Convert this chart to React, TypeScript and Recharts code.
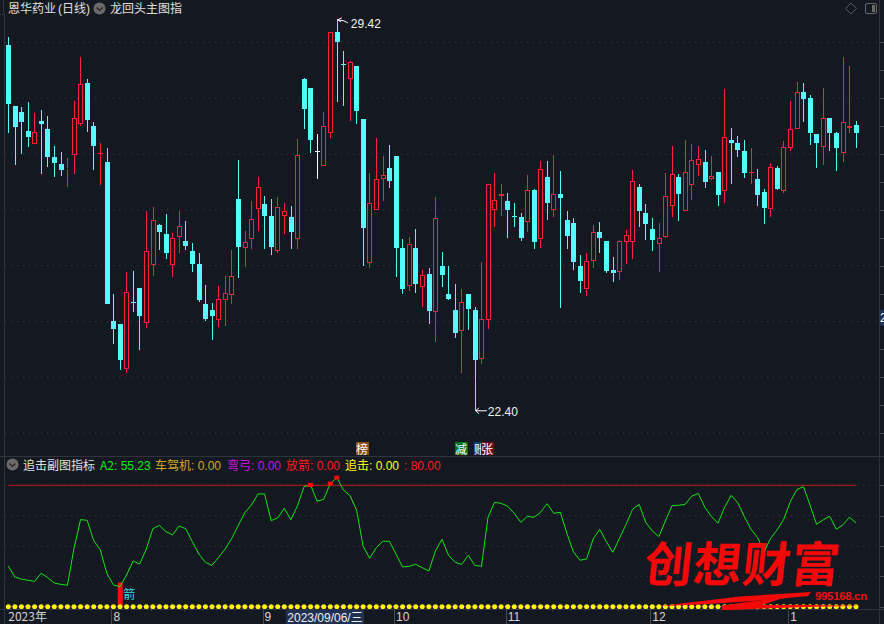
import React from 'react';
import { ComposedChart, Bar, Line, XAxis, YAxis, CartesianGrid, ReferenceDot } from 'recharts';

const highs = [29.09,27.86,27.84,27.93,27.73,27.79,27.68,27.14,27.04,26.93,27.95,28.74,28.34,27.57,27.19,27.10,24.49,23.96,24.89,24.91,24.60,25.98,26.05,25.75,25.93,25.59,25.98,25.80,25.41,25.23,24.65,24.33,24.64,24.81,25.28,26.89,25.62,26.16,26.59,26.25,26.19,26.23,26.12,26.07,27.26,28.36,28.18,27.36,27.75,29.18,29.42,28.84,28.66,28.58,27.63,26.66,27.29,26.96,27.16,26.96,25.48,25.51,25.66,24.92,24.96,26.23,25.24,24.99,24.67,24.58,24.49,24.26,25.07,26.46,26.66,26.46,26.30,26.12,25.94,26.62,26.37,26.87,26.87,26.98,26.70,25.97,25.85,25.19,25.23,25.73,25.78,25.44,25.16,25.46,25.64,26.71,26.46,26.10,25.85,25.76,26.66,27.14,26.64,27.25,27.18,27.14,27.07,26.96,26.68,28.16,27.47,27.32,27.25,27.11,26.73,26.37,26.84,26.79,27.23,27.95,28.29,28.27,28.06,27.36,28.18,27.65,27.39,28.74,28.58,27.59];
const lows = [27.38,26.81,27.00,27.13,27.18,26.65,26.76,26.59,26.61,26.40,26.65,27.51,27.40,26.72,26.45,24.32,23.60,23.13,23.08,24.17,23.49,23.88,24.81,25.28,25.12,24.79,25.23,25.28,24.89,24.35,24.01,23.67,23.90,23.92,24.31,24.78,24.98,25.30,25.62,25.30,25.19,25.23,25.57,25.30,25.30,27.45,27.02,26.55,26.79,27.29,27.93,27.86,27.59,27.54,24.99,24.96,26.00,26.16,26.39,24.80,24.49,24.55,24.51,24.26,23.96,23.63,24.62,24.39,23.70,23.08,23.85,22.40,23.24,23.87,25.69,25.89,25.50,25.69,25.44,25.60,25.30,25.32,25.82,25.87,24.24,25.30,24.92,24.51,24.46,24.96,25.23,24.87,24.71,24.74,25.03,25.12,25.69,25.46,25.26,24.89,25.50,25.87,25.80,25.97,26.18,26.61,26.39,26.54,26.07,26.12,26.46,26.95,26.57,26.46,26.07,25.75,25.87,26.36,26.30,27.05,27.45,27.57,27.16,26.75,26.80,27.05,26.70,26.86,27.38,27.11];
const opens = [28.96,27.86,27.75,27.41,27.18,27.59,27.45,26.95,26.82,26.73,26.99,27.53,28.27,27.50,27.01,26.86,24.01,23.96,23.14,24.34,24.60,23.98,25.01,25.73,25.57,25.01,25.51,25.44,25.26,25.03,24.31,24.21,24.02,24.39,24.48,26.19,25.32,25.48,26.01,26.10,25.89,25.27,25.89,25.87,25.48,28.34,28.18,27.05,26.79,27.38,29.19,28.61,28.35,28.58,27.63,25.05,26.00,26.56,26.75,26.96,25.32,24.64,25.32,24.62,24.85,24.17,24.99,24.49,24.21,23.83,24.49,24.21,23.33,24.02,26.00,26.24,26.16,25.89,25.87,25.79,26.36,25.47,26.59,25.99,26.28,25.82,25.76,24.99,24.59,25.09,25.60,25.44,24.92,24.89,25.43,25.43,26.41,25.94,25.66,25.39,25.51,26.07,26.59,25.97,26.45,26.81,26.86,26.56,26.68,26.33,27.25,27.20,27.05,26.67,26.55,26.32,26.02,26.75,26.34,27.11,27.45,28.11,28.00,27.36,27.13,27.65,27.38,27.02,27.47,27.52];
const closes = [27.90,27.49,27.58,27.31,27.39,27.54,26.95,26.83,26.72,26.74,27.64,28.25,27.61,27.15,27.02,24.32,23.87,23.31,24.52,24.33,24.09,25.26,25.81,25.60,25.23,25.49,25.71,25.35,25.03,24.38,24.04,24.10,24.40,24.51,24.81,25.33,25.42,25.83,26.40,25.89,25.33,26.05,25.97,25.60,26.99,27.81,27.25,27.05,27.51,29.18,29.01,28.60,28.64,27.77,25.67,26.12,26.56,26.62,26.52,25.32,24.58,25.38,24.67,24.83,24.19,25.85,24.83,24.40,23.79,24.34,24.22,23.31,24.04,26.46,26.17,26.28,26.00,25.88,25.50,26.35,25.42,26.73,26.12,26.28,26.21,25.53,25.07,24.73,25.08,25.60,25.50,24.91,24.87,25.44,25.54,26.51,25.98,25.75,25.46,25.49,26.24,26.64,26.28,26.67,26.89,26.91,26.50,26.60,26.27,27.30,27.20,27.07,26.66,26.68,26.27,26.03,26.76,26.37,27.12,27.44,28.11,27.98,27.38,27.20,27.64,27.38,27.11,27.57,27.50,27.38];
const a2Values = [26.8,19.5,18.2,17.4,16.7,22.0,19.1,15.6,14.7,14.1,38.5,57.4,56.9,43.5,37.4,22.0,14.3,13.2,20.9,30.1,28.1,38.0,51.4,53.6,49.4,47.4,53.2,51.4,42.9,34.7,29.2,27.2,32.5,38.0,45.0,53.6,62.0,67.0,74.3,74.3,56.7,58.5,64.8,57.4,66.4,79.1,80.2,69.5,70.8,81.1,85.1,76.9,73.2,63.7,39.8,31.9,38.9,43.1,43.1,34.7,26.2,26.6,27.9,25.7,23.5,36.7,44.4,33.9,29.2,27.9,33.9,27.2,26.6,58.9,68.8,68.1,66.2,61.5,55.6,59.6,58.9,62.2,67.9,61.5,62.2,48.4,36.1,30.6,31.4,44.6,51.0,42.9,35.8,45.0,54.1,64.2,67.5,55.6,49.9,46.2,56.5,66.6,66.8,67.5,72.8,74.7,65.5,59.4,55.0,65.5,73.4,68.6,59.4,51.2,45.7,36.3,45.0,50.6,57.6,69.2,77.2,79.1,67.0,54.3,57.2,59.6,51.0,53.9,58.9,55.23];
const arrowIndex = 17;
const arrowValue = 16.1;
const limitValue = 80;
const paddingSlots = 3;
const priceGrid = [22,23,24,25,26,27,28,29];
const priceTicks = [22,22.5,23,23.5,24,24.5,25,25.5,26,26.5,27,27.5,28,28.5,29];
const priceDomain = [21.59, 29.758];
const lowerGrid = [20,40,60,80];
const lowerTicks = [0,20,40,60,80];
const lowerDomain = [-1.54, 98.66];
const monthIndex = [0,16,39,59,76,98,119];
const monthLabels = ['2023年','8','9','10','11','12','1'];
const minorIndex = [22,27,33,44,49,54,65,70,83,88,93,103,108,114,124];

const BG = '#141821';
const CYAN = '#54fcfc';
const RED = '#ff2040';
const GRID = '#3a3f47';
const EDGE = '#2f333a';
const CJK = "'Noto Sans CJK SC', sans-serif";
const LATIN = "'Liberation Sans', sans-serif";

const total = highs.length + paddingSlots;
const rows = Array.from({ length: total }, (_, i) => {
  if (i >= highs.length) return { i };
  return {
    i,
    range: [lows[i], highs[i]],
    high: highs[i],
    low: lows[i],
    open: opens[i],
    close: closes[i],
    a2: a2Values[i],
    limit: limitValue,
    bow: 0,
    chase: 0,
    arrow: i === arrowIndex ? arrowValue : 0,
    peak: a2Values[i] >= limitValue ? a2Values[i] : null,
  };
});

function Candle(props: any) {
  const { x, y, width, height, payload } = props;
  if (payload == null || payload.high == null) return null;
  const span = payload.high - payload.low;
  const py = (v: number) => y + ((payload.high - v) / span) * height;
  const up = payload.close > payload.open;
  const flat = payload.close === payload.open;
  const color = flat ? '#ffffff' : up ? RED : CYAN;
  const cx = Math.floor(x + width / 2) + 0.5;
  const yT = Math.round(py(Math.max(payload.open, payload.close)));
  const yB = Math.round(py(Math.min(payload.open, payload.close)));
  const yH = Math.round(py(payload.high));
  const yL = Math.round(py(payload.low));
  const thin = yB - yT < 1;
  return (
    <g shapeRendering="crispEdges">
      <line x1={cx} x2={cx} y1={yH} y2={yT} stroke={color} />
      <line x1={cx} x2={cx} y1={yB} y2={yL} stroke={color} />
      {thin ? (
        <line x1={cx - 2.5} x2={cx + 2.5} y1={yT + 0.5} y2={yT + 0.5} stroke={color} />
      ) : up ? (
        <rect x={cx - 2} y={yT + 0.5} width={4} height={yB - yT - 1} fill={BG} stroke={color} />
      ) : (
        <rect x={cx - 2.5} y={yT} width={5} height={yB - yT} fill={color} />
      )}
    </g>
  );
}

function ArrowBar(props: any) {
  const { x, y, width, height, payload } = props;
  if (!payload || !payload.arrow) return null;
  return (
    <g>
      <rect x={x} y={y} width={width} height={height} rx={1.5} fill="#ff0a0a" />
      <text x={x + width + 0.5} y={y + 17} fontSize={12} fill="#35d8e0" fontFamily={CJK}>箭</text>
    </g>
  );
}

function PeakDot(props: any) {
  const { cx, cy, payload } = props;
  if (!payload || payload.peak == null) return <g key={props.key} />;
  return <rect key={props.key} x={cx - 2.5} y={cy - 2} width={5} height={4} fill="#ff0a0a" />;
}

function RightTick(props: any) {
  const { x, y } = props;
  return <line x1={x} x2={x + 5} y1={Math.round(y) + 0.5} y2={Math.round(y) + 0.5} stroke="#444950" shapeRendering="crispEdges" />;
}

function MonthTick(props: any) {
  const { x, y, payload } = props;
  const idx = monthIndex.indexOf(payload.value);
  if (idx < 0) {
    return <line x1={x - 1} x2={x - 1} y1={y} y2={y + 2} stroke="#444950" shapeRendering="crispEdges" />;
  }
  return (
    <g>
      {idx > 0 && <line x1={Math.round(x) - 1.5} x2={Math.round(x) - 1.5} y1={y} y2={y + 15} stroke="#444950" shapeRendering="crispEdges" />}
      <text x={x} y={y + 12} fontSize={12} fill="#d6d6d6" fontFamily={idx === 0 ? CJK : LATIN}>{monthLabels[idx]}</text>
    </g>
  );
}

function HighFlag(props: any) {
  const { cx, cy } = props;
  return (
    <g>
      <polyline points={`${cx + 4},${cy + 3} ${cx + 1},${cy + 1} ${cx + 5},${cy - 1}`} fill="none" stroke="#fff" />
      <polyline points={`${cx + 1},${cy + 1} ${cx + 7},${cy + 2} ${cx + 11},${cy + 4}`} fill="none" stroke="#fff" />
      <text x={cx + 14} y={cy + 9} fontSize={12} fill="#f2f2f2" fontFamily={LATIN}>29.42</text>
    </g>
  );
}

function LowFlag(props: any) {
  const { cx, cy } = props;
  return (
    <g>
      <polyline points={`${cx + 4},${cy - 3} ${cx + 1},${cy} ${cx + 4},${cy + 3}`} fill="none" stroke="#fff" />
      <line x1={cx + 1} x2={cx + 12} y1={cy} y2={cy} stroke="#fff" />
      <text x={cx + 13} y={cy + 5} fontSize={12} fill="#f2f2f2" fontFamily={LATIN}>22.40</text>
    </g>
  );
}

function Abs({ left, top, color = '#e0e0e0', size = 12, family = CJK, extra = {}, children }: any) {
  return (
    <div style={{ position: 'absolute', left, top, color, fontSize: size, fontFamily: family, lineHeight: '14px', whiteSpace: 'nowrap', ...extra }}>
      {children}
    </div>
  );
}

function Legend({ left, name, value, color }: any) {
  return (
    <div style={{ position: 'absolute', left, top: 458, color, fontSize: 12, lineHeight: '14px', whiteSpace: 'nowrap', fontFamily: CJK }}>
      {name}
      <span style={{ fontFamily: LATIN, letterSpacing: 0 }}>{value}</span>
    </div>
  );
}

function Chevron({ left, top }: any) {
  return (
    <svg style={{ position: 'absolute', left, top }} width={13} height={13}>
      <circle cx={6.5} cy={6.5} r={6} fill="#6a6a6a" />
      <polyline points="3.5,5.5 6.5,8.5 9.5,5.5" fill="none" stroke="#202020" strokeWidth={1.2} />
    </svg>
  );
}

function Tag({ left, width = 13, bg, children, top = 442 }: any) {
  return (
    <div style={{ position: 'absolute', left, top, width, height: 13, background: bg, color: '#fff', fontSize: 12, lineHeight: '13px', fontFamily: CJK, textAlign: 'left' }}>
      {children}
    </div>
  );
}

const hLine = (top: number, left = 0, width = 884) => (
  <div style={{ position: 'absolute', left, top, width, height: 1, background: EDGE }} />
);
const vLine = (left: number, top: number, height: number) => (
  <div style={{ position: 'absolute', left, top, width: 1, height, background: EDGE }} />
);

export default function App() {
  return (
    <div style={{ position: 'fixed', left: 0, top: 0, width: 884, height: 624, background: BG, overflow: 'hidden' }}>
      <div style={{ position: 'absolute', left: 0, top: 0 }}>
        <ComposedChart width={884} height={456} data={rows} margin={{ top: 0, left: 5, right: 0, bottom: 0 }} barCategoryGap={0}>
          <CartesianGrid vertical={false} horizontalValues={priceGrid} stroke={GRID} strokeDasharray="1 5" />
          <XAxis dataKey="i" type="category" hide />
          <YAxis orientation="right" width={5} domain={priceDomain} allowDataOverflow ticks={priceTicks} interval={0} axisLine={false} tickLine={false} tickSize={0} tickMargin={0} tick={<RightTick />} />
          <Bar dataKey="range" barSize={5} shape={<Candle />} isAnimationActive={false} />
          <ReferenceDot x={50} y={29.42} r={0} shape={<HighFlag />} ifOverflow="visible" />
          <ReferenceDot x={71} y={22.40} r={0} shape={<LowFlag />} ifOverflow="visible" />
        </ComposedChart>
      </div>
      <div style={{ position: 'absolute', left: 0, top: 457 }}>
        <ComposedChart width={884} height={167} data={rows} margin={{ top: 0, left: 5, right: 0, bottom: 0 }} barCategoryGap={0}>
          <CartesianGrid vertical={false} horizontalValues={lowerGrid} stroke={GRID} strokeDasharray="1 5" />
          <XAxis dataKey="i" type="category" height={15} interval={0} ticks={[...monthIndex, ...minorIndex]} axisLine={false} tickLine={false} tickSize={0} tickMargin={0} tick={<MonthTick />} />
          <YAxis orientation="right" width={5} domain={lowerDomain} allowDataOverflow ticks={lowerTicks} interval={0} axisLine={false} tickLine={false} tickSize={0} tickMargin={0} tick={<RightTick />} />
          <Line dataKey="limit" stroke="#c81818" strokeWidth={1} dot={false} isAnimationActive={false} />
          <Line dataKey="a2" stroke="#12e612" strokeWidth={1} dot={false} isAnimationActive={false} />
          <Line dataKey="bow" stroke="#c000c8" strokeWidth={1} dot={false} isAnimationActive={false} />
          <Bar dataKey="arrow" barSize={5} shape={<ArrowBar />} isAnimationActive={false} />
          <Line dataKey="chase" stroke="none" dot={{ r: 2.5, fill: '#ffff00', stroke: 'none' }} isAnimationActive={false} />
          <Line dataKey="peak" stroke="none" dot={<PeakDot />} isAnimationActive={false} />
        </ComposedChart>
      </div>

      {hLine(456)}
      {hLine(609)}
      {vLine(4, 14, 610)}
      {vLine(879, 0, 624)}
      <div style={{ position: 'absolute', left: 0, top: 0, width: 3, height: 14, borderRight: `1px solid ${EDGE}`, borderBottom: `1px solid ${EDGE}` }} />

      <Abs left={8} top={1}>恩华药业<span style={{ fontFamily: LATIN, marginLeft: 2 }}>(</span>日线<span style={{ fontFamily: LATIN }}>)</span></Abs>
      <Chevron left={93} top={2} />
      <Abs left={110} top={1}>龙回头主图指</Abs>
      <svg style={{ position: 'absolute', left: 844, top: 2 }} width={34} height={13}>
        <polygon points="7,1 12.5,6.5 7,12 1.5,6.5" fill="none" stroke="#5a5a5a" />
        <rect x={21.5} y={1.5} width={11} height={10} rx={1.5} fill="none" stroke="#6a6a6a" />
        <rect x={28} y={3} width={3} height={7} fill="#6a6a6a" />
      </svg>
      <div style={{ position: 'absolute', left: 880, top: 310, width: 4, height: 16, background: '#1f3050', color: '#fff', fontSize: 12, lineHeight: '16px', fontFamily: LATIN, overflow: 'hidden' }}>2</div>

      <Tag left={356} bg="#8a4a10">榜</Tag>
      <Tag left={455} bg="#0a700f">减</Tag>
      <Tag left={474} bg="#103c70">账</Tag>
      <Tag left={481} bg="#701010">张</Tag>

      <Chevron left={6} top={458} />
      <Abs left={23} top={458}>追击副图指标</Abs>
      <Legend left={100} name="A2" value=": 55.23" color="#10f010" />
      <Legend left={155} name="车驾机" value=": 0.00" color="#d8a818" />
      <Legend left={227} name="弯弓" value=": 0.00" color="#d010e0" />
      <Legend left={286} name="放箭" value=": 0.00" color="#ff1a1a" />
      <Legend left={345} name="追击" value=": 0.00" color="#ffff10" />
      <Legend left={404} name="" value=": 80.00" color="#ff1a1a" />

      <div style={{ position: 'absolute', left: 286, top: 610, width: 78, height: 14, background: '#1f3050', color: '#f0f0f0', fontSize: 12, lineHeight: '14px', fontFamily: CJK, whiteSpace: 'nowrap', textAlign: 'center' }}>
        <span style={{ fontFamily: LATIN }}>2023/09/06/</span>三
      </div>

      <div style={{ position: 'absolute', left: 645, top: 526, color: '#f40808', fontSize: 48, fontWeight: 700, lineHeight: '70px', letterSpacing: 1, fontFamily: CJK, transform: 'skewX(-6deg)', whiteSpace: 'nowrap' }}>创想财富</div>
      <svg style={{ position: 'absolute', left: 640, top: 580 }} width={244} height={44}>
        <polygon points="20,26 100,16.5 171,12 168,16 113,21 60,24.5" fill="#f40808" />
        <polygon points="168,13.5 82,25.5 82,30 110,29 140,19" fill="#f40808" />
        <polygon points="100,25 167,25 224,25.8 167,27 82,30" fill="#f40808" />
      </svg>
      <div style={{ position: 'absolute', left: 815, top: 590, color: '#f01010', fontSize: 11.5, fontWeight: 700, lineHeight: '13px', fontFamily: LATIN, letterSpacing: -0.35, whiteSpace: 'nowrap' }}>995168.cn</div>
    </div>
  );
}
